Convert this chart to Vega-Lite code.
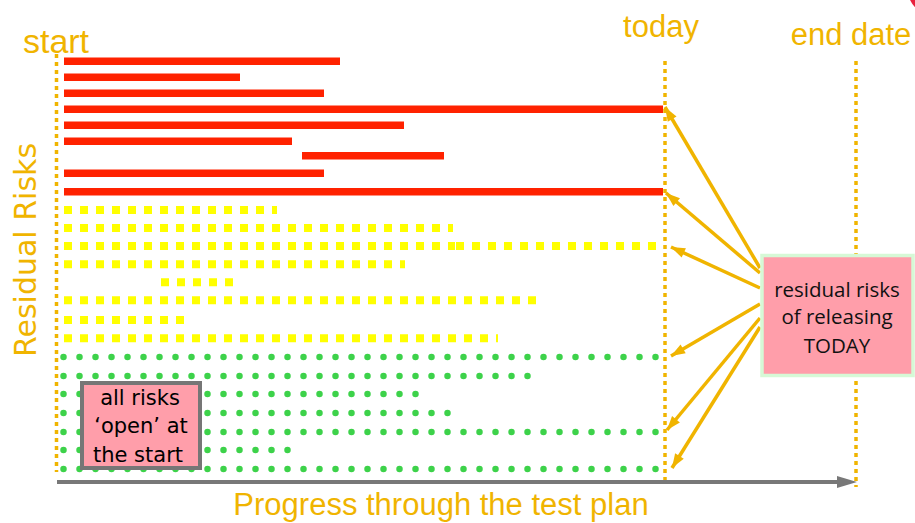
{
  "$schema": "https://vega.github.io/schema/vega-lite/v6.json",
  "width": 915,
  "height": 523,
  "padding": 0,
  "autosize": {"type": "none"},
  "background": "white",
  "config": {"view": {"stroke": null}},
  "datasets": {
    "red": [
      {"x": 64, "x2": 340, "y": 61.3},
      {"x": 64, "x2": 240, "y": 77.3},
      {"x": 64, "x2": 324, "y": 93.3},
      {"x": 64, "x2": 663, "y": 109.3},
      {"x": 64, "x2": 404, "y": 125.3},
      {"x": 64, "x2": 292, "y": 141.3},
      {"x": 302, "x2": 444, "y": 155.7},
      {"x": 64, "x2": 324, "y": 173.3},
      {"x": 64, "x2": 663, "y": 191.7}
    ],
    "yellow": [
      {"x": 64, "x2": 277, "y": 210},
      {"x": 64, "x2": 453, "y": 228},
      {"x": 64, "x2": 455, "y": 246},
      {"x": 456, "x2": 656, "y": 246},
      {"x": 64, "x2": 405, "y": 264.3},
      {"x": 161, "x2": 233, "y": 282.3},
      {"x": 64, "x2": 544, "y": 300.3},
      {"x": 64, "x2": 184, "y": 320},
      {"x": 64, "x2": 498, "y": 338.3}
    ],
    "green": [
      {"x": 63.5, "x2": 657, "y": 357},
      {"x": 63.5, "x2": 529, "y": 376},
      {"x": 63.5, "x2": 417, "y": 394},
      {"x": 63.5, "x2": 449, "y": 413},
      {"x": 63.5, "x2": 659, "y": 432},
      {"x": 63.5, "x2": 289, "y": 450},
      {"x": 63.5, "x2": 659, "y": 469}
    ],
    "milestones": [
      {"x": 56.5, "y": 54, "y2": 472},
      {"x": 665, "y": 61, "y2": 480},
      {"x": 856, "y": 61, "y2": 487}
    ],
    "axisline": [{"x": 57, "x2": 842, "y": 482, "hx": 847}],
    "arrows": [
      {"x": 760, "y": 268, "x2": 665, "y2": 107},
      {"x": 760, "y": 273, "x2": 666, "y2": 193},
      {"x": 760, "y": 288, "x2": 671, "y2": 247},
      {"x": 760, "y": 304, "x2": 671, "y2": 356},
      {"x": 760, "y": 318, "x2": 667, "y2": 430},
      {"x": 760, "y": 327, "x2": 672, "y2": 468}
    ],
    "boxResidual": [{"x": 762, "x2": 913, "y": 255.5, "y2": 375.5}],
    "boxOpen": [{"x": 82, "x2": 200, "y": 383, "y2": 468}],
    "residualText": [
      {"x": 837, "y": 297, "text": "residual risks"},
      {"x": 837, "y": 324, "text": "of releasing"},
      {"x": 837, "y": 353, "text": "TODAY"}
    ],
    "openText": [
      {"x": 140, "y": 405, "text": "all risks"},
      {"x": 141, "y": 433, "text": "‘open’ at"},
      {"x": 138, "y": 462, "text": "the start"}
    ],
    "bigLabels": [
      {"x": 661, "y": 37, "text": "today"},
      {"x": 851, "y": 45, "text": "end date"}
    ],
    "xLabel": [{"x": 441, "y": 515, "text": "Progress through the test plan"}],
    "startLabel": [{"x": 56, "y": 53, "text": "start"}],
    "yLabel": [{"x": 36, "y": 250, "text": "Residual Risks"}],
    "corner": [{"x": 935, "y": -12}]
  },
  "encoding": {
    "x": {"field": "x", "type": "quantitative", "scale": {"domain": [0, 915], "nice": false, "zero": false}, "axis": null},
    "y": {"field": "y", "type": "quantitative", "scale": {"domain": [0, 523], "reverse": true, "nice": false, "zero": false}, "axis": null}
  },
  "layer": [
    {
      "data": {"name": "corner"},
      "mark": {"type": "point", "filled": true, "shape": "circle", "size": 3069, "color": "#E8203C", "opacity": 1, "clip": true},
      "encoding": {}
    },
    {
      "data": {"name": "milestones"},
      "mark": {"type": "rule", "color": "#F0B400", "strokeWidth": 3.5, "strokeDash": [4, 4], "strokeCap": "butt"},
      "encoding": {"y2": {"field": "y2"}}
    },
    {
      "data": {"name": "red"},
      "mark": {"type": "rule", "color": "#FF2200", "strokeWidth": 7.5, "strokeCap": "butt"},
      "encoding": {"x2": {"field": "x2"}}
    },
    {
      "data": {"name": "yellow"},
      "mark": {"type": "rule", "color": "#FFFF00", "strokeWidth": 8, "strokeDash": [8, 8], "strokeCap": "butt"},
      "encoding": {"x2": {"field": "x2"}}
    },
    {
      "data": {"name": "green"},
      "mark": {"type": "rule", "color": "#3DD24A", "strokeWidth": 6.5, "strokeDash": [0, 16], "strokeCap": "round"},
      "encoding": {"x2": {"field": "x2"}}
    },
    {
      "data": {"name": "axisline"},
      "mark": {"type": "rule", "color": "#787878", "strokeWidth": 4, "strokeCap": "butt"},
      "encoding": {"x2": {"field": "x2"}}
    },
    {
      "data": {"name": "axisline"},
      "mark": {"type": "point", "filled": true, "shape": "M-1,-0.6L1,0L-1,0.6Z", "size": 400, "color": "#787878", "opacity": 1},
      "encoding": {"x": {"field": "hx", "type": "quantitative"}}
    },
    {
      "data": {"name": "arrows"},
      "mark": {"type": "rule", "color": "#F0B400", "strokeWidth": 3.5, "strokeCap": "butt"},
      "encoding": {"x2": {"field": "x2"}, "y2": {"field": "y2"}}
    },
    {
      "data": {"name": "arrows"},
      "transform": [
        {"calculate": "sqrt(pow(datum.x2 - datum.x, 2) + pow(datum.y2 - datum.y, 2))", "as": "len"},
        {"calculate": "datum.x2 - 7 * (datum.x2 - datum.x) / datum.len", "as": "hx"},
        {"calculate": "datum.y2 - 7 * (datum.y2 - datum.y) / datum.len", "as": "hy"},
        {"calculate": "atan2(datum.x2 - datum.x, datum.y - datum.y2) * 180 / PI", "as": "ang"}
      ],
      "mark": {"type": "point", "filled": true, "shape": "M0,-1L0.72,1L-0.72,1Z", "size": 200, "color": "#F0B400", "opacity": 1},
      "encoding": {
        "x": {"field": "hx", "type": "quantitative"},
        "y": {"field": "hy", "type": "quantitative"},
        "angle": {"field": "ang", "type": "quantitative", "scale": null}
      }
    },
    {
      "data": {"name": "boxResidual"},
      "mark": {"type": "rect", "fill": "#FF9EAA", "stroke": "#D6F9D6", "strokeWidth": 3.5},
      "encoding": {"x2": {"field": "x2"}, "y2": {"field": "y2"}}
    },
    {
      "data": {"name": "boxOpen"},
      "mark": {"type": "rect", "fill": "#FF9EAA", "stroke": "#767676", "strokeWidth": 4},
      "encoding": {"x2": {"field": "x2"}, "y2": {"field": "y2"}}
    },
    {
      "data": {"name": "residualText"},
      "mark": {"type": "text", "font": "Open Sans", "fontSize": 20.5, "color": "#111111", "align": "center", "baseline": "alphabetic"},
      "encoding": {"text": {"field": "text"}}
    },
    {
      "data": {"name": "openText"},
      "mark": {"type": "text", "font": "DejaVu Sans", "fontSize": 21, "color": "#000000", "align": "center", "baseline": "alphabetic"},
      "encoding": {"text": {"field": "text"}}
    },
    {
      "data": {"name": "bigLabels"},
      "mark": {"type": "text", "font": "Liberation Sans", "fontSize": 31, "color": "#F0B400", "align": "center", "baseline": "alphabetic"},
      "encoding": {"text": {"field": "text"}}
    },
    {
      "data": {"name": "xLabel"},
      "mark": {"type": "text", "font": "Liberation Sans", "fontSize": 31, "color": "#F0B400", "align": "center", "baseline": "alphabetic"},
      "encoding": {"text": {"field": "text"}}
    },
    {
      "data": {"name": "startLabel"},
      "mark": {"type": "text", "font": "Liberation Sans", "fontSize": 34, "color": "#F0B400", "align": "center", "baseline": "alphabetic"},
      "encoding": {"text": {"field": "text"}}
    },
    {
      "data": {"name": "yLabel"},
      "mark": {"type": "text", "font": "DejaVu Sans", "fontSize": 30, "color": "#F0B400", "align": "center", "baseline": "alphabetic", "angle": 270},
      "encoding": {"text": {"field": "text"}}
    }
  ]
}
